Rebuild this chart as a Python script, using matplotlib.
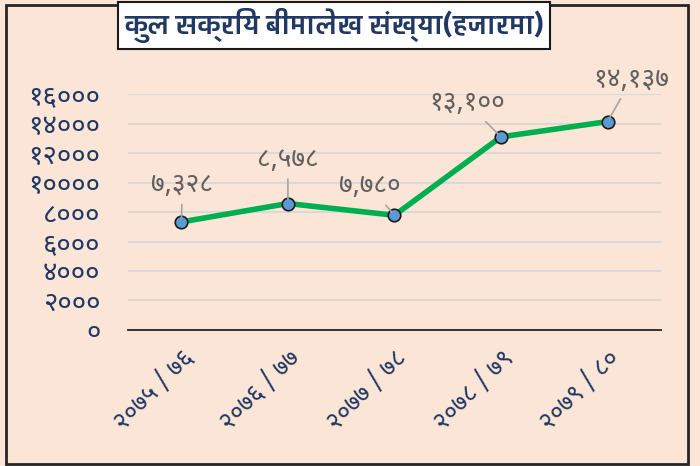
import matplotlib
matplotlib.use("Agg")
import matplotlib.pyplot as plt
from matplotlib import font_manager
from matplotlib.ft2font import FT2Font
from matplotlib.patches import Rectangle

# data
years = ["२०७५ / ७६", "२०७६ / ७७", "२०७७ / ७८", "२०७८ / ७९", "२०७९ / ८०"]
policies = [7328, 8578, 7780, 13100, 14137]
point_labels = ["७,३२८", "८,५७८", "७,७८०", "१३,१००", "१४,१३७"]
yticks = [0, 2000, 4000, 6000, 8000, 10000, 12000, 14000, 16000]
ytick_labels = ["०", "२०००", "४०००", "६०००", "८०००", "१००००", "१२०००", "१४०००", "१६०००"]
title = "कुल सक्रिय बीमालेख संख्या(हजारमा)"

# label offsets in pixels (x, y)
offsets = [(1, 37), (0, 44), (-25, 29), (-34, 34), (24, 42)]

BG = "#FBE5D6"
NAVY = "#1F3864"


def has_devanagari(path):
    try:
        return 0x0915 in FT2Font(path).get_charmap()
    except Exception:
        return False


def pick_font(wanted):
    names = {}
    for f in font_manager.fontManager.ttflist:
        names.setdefault(f.name, f.fname)
    for w in wanted:
        if w in names and has_devanagari(names[w]):
            return w
    for n, p in names.items():
        if "Unifont" not in n and "Mono" not in n and has_devanagari(p):
            return n
    return None


dev = pick_font(["Noto Sans Devanagari", "Mukta", "Hind", "Poppins", "FreeSans"])
title_font = pick_font(["Biryani", "Hind", "Poppins", "Noto Sans Devanagari"])
plt.rcParams["font.family"] = [dev, "DejaVu Sans"] if dev else ["DejaVu Sans"]

fig = plt.figure(figsize=(7, 4.66), dpi=100, facecolor=BG)
ax = fig.add_axes([0.183, 0.292, 0.761, 0.506])
ax.set_facecolor(BG)

x = list(range(len(years)))
ax.plot(x, policies, color="#00B050", lw=4, zorder=3,
        marker="o", markersize=9, markerfacecolor="#5B9BD5",
        markeredgecolor="#1a1a1a", markeredgewidth=1.2)

for i, (v, lab) in enumerate(zip(policies, point_labels)):
    ax.annotate(lab, (i, v), xytext=offsets[i], textcoords="offset pixels",
                ha="center", va="center", fontsize=19, color="#606060",
                arrowprops=dict(arrowstyle="-", color="#A6A6A6", lw=1.2,
                                shrinkA=2, shrinkB=3), zorder=4)

ax.set_xlim(-0.5, len(years) - 0.5)
ax.set_ylim(0, 16000)
ax.set_yticks(yticks)
ax.set_yticklabels(ytick_labels, color=NAVY, fontsize=20)
ax.set_xticks(x)
ax.set_xticklabels(years, color=NAVY, fontsize=18, rotation=45,
                   ha="right", rotation_mode="anchor")
ax.tick_params(axis="y", length=0, pad=20)
ax.tick_params(axis="x", length=0, pad=11)
ax.grid(axis="y", color="#D9D9D9", lw=1.5)
ax.set_axisbelow(True)
for s in ["top", "right", "left"]:
    ax.spines[s].set_visible(False)
ax.spines["bottom"].set_color("#262626")
ax.spines["bottom"].set_linewidth(1.3)

fig.text(0.477, 0.945, title, ha="center", va="center", fontsize=20,
         fontweight="bold", color=NAVY,
         family=[title_font, "DejaVu Sans"] if title_font else ["DejaVu Sans"],
         bbox=dict(boxstyle="square,pad=0.22", fc="white", ec="#1a1a1a", lw=1.5))

# outer frame
fig.patches.append(Rectangle((0.009, 0.004), 0.974, 0.985, transform=fig.transFigure,
                             fill=False, ec="#262626", lw=2))

fig.savefig("out.png", dpi=100, facecolor=BG)
